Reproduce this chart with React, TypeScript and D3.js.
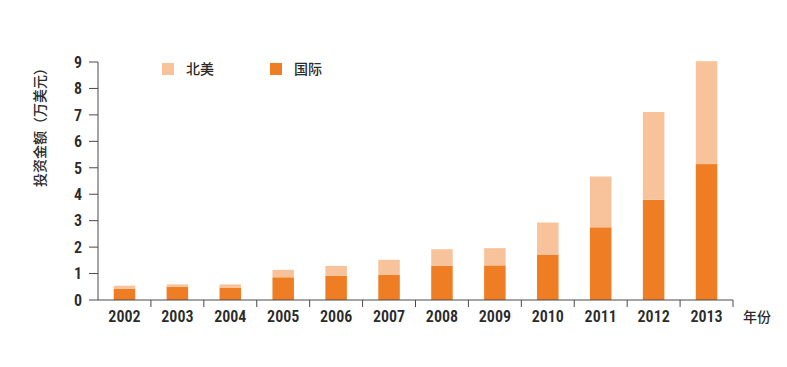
import React from "react";
import * as d3 from "d3";

const years = ["2002", "2003", "2004", "2005", "2006", "2007", "2008", "2009", "2010", "2011", "2012", "2013"];
// 国际 (bottom segment)
const intlValues = [0.42, 0.5, 0.47, 0.86, 0.92, 0.96, 1.29, 1.31, 1.72, 2.75, 3.79, 5.14];
// total height of each stacked bar (国际 + 北美)
const totalValues = [0.54, 0.59, 0.59, 1.14, 1.29, 1.52, 1.92, 1.96, 2.93, 4.67, 7.11, 9.03];
const northAmericaValues = totalValues.map((t, i) => +(t - intlValues[i]).toFixed(2));
const yTicks = [0, 1, 2, 3, 4, 5, 6, 7, 8, 9];
const seriesNames = ["北美", "国际"];

const LIGHT = "#f8c39b";
const DARK = "#ef7d23";
const AXIS = "#4a4a4a";
const numFont = "'Liberation Sans Narrow', 'Roboto Condensed', Roboto, sans-serif";
const cjkFont = "'Noto Sans CJK SC', sans-serif";

const App = () => {
  const width = 787;
  const height = 367;
  const margin = { top: 62, right: 54, bottom: 67, left: 98 };

  const band = d3.scaleBand().domain(years).range([margin.left, width - margin.right]);
  const y = d3.scaleLinear().domain([0, 9]).range([height - margin.bottom, margin.top]);
  const barW = 21.5;

  const rows = years.map((yr, i) => ({ year: yr, intl: intlValues[i], na: northAmericaValues[i] }));
  const stack = d3.stack<any>().keys(["intl", "na"])(rows);
  const colors: Record<string, string> = { intl: DARK, na: LIGHT };

  const y0 = y(0);

  return (
    <svg width={width} height={height} style={{ position: "absolute", left: 0, top: 0, background: "#fff" }}>
      {/* bars */}
      {stack.map((layer) => (
        <g key={layer.key} fill={colors[layer.key]}>
          {layer.map((d: any, i: number) => (
            <rect
              key={i}
              x={band(years[i])! + (band.bandwidth() - barW) / 2}
              width={barW}
              y={y(d[1])}
              height={y(d[0]) - y(d[1])}
            />
          ))}
        </g>
      ))}

      {/* y axis */}
      <line x1={margin.left} x2={margin.left} y1={y(9)} y2={y0} stroke={AXIS} strokeWidth={1} />
      {yTicks.map((t) => (
        <g key={t} transform={`translate(0,${y(t)})`}>
          <line x1={margin.left - 9} x2={margin.left} stroke={AXIS} strokeWidth={1} />
          <text
            x={margin.left - 16}
            dy="0.36em"
            textAnchor="end"
            fontFamily={numFont}
            fontSize={16}
            fontWeight={600}
            fill="#2a2a2a"
          >
            {t}
          </text>
        </g>
      ))}

      {/* x axis */}
      <line x1={margin.left} x2={width - margin.right} y1={y0} y2={y0} stroke={AXIS} strokeWidth={1} />
      {years.map((yr) => (
        <g key={yr}>
          <line
            x1={band(yr)! + band.bandwidth()}
            x2={band(yr)! + band.bandwidth()}
            y1={y0}
            y2={y0 + 7}
            stroke={AXIS}
            strokeWidth={1}
          />
          <text
            x={band(yr)! + band.bandwidth() / 2}
            y={y0 + 22}
            textAnchor="middle"
            fontFamily={numFont}
            fontSize={16}
            fontWeight={600}
            fill="#2a2a2a"
          >
            {yr}
          </text>
        </g>
      ))}
      <text x={743} y={y0 + 22} fontFamily={cjkFont} fontSize={14} fontWeight={500} fill="#2a2a2a">
        年份
      </text>

      {/* y title */}
      <text
        transform={`translate(45,124) rotate(-90)`}
        textAnchor="middle"
        fontFamily={cjkFont}
        fontSize={14}
        fontWeight={500}
        fill="#2a2a2a"
      >
        投资金额（万美元）
      </text>

      {/* legend */}
      {seriesNames.map((name, i) => (
        <g key={name} transform={`translate(${162 + i * 108},63)`}>
          <rect width={12} height={12} fill={i === 0 ? LIGHT : DARK} />
          <text x={24} y={11} fontFamily={cjkFont} fontSize={14} fontWeight={500} fill="#2a2a2a">
            {name}
          </text>
        </g>
      ))}
    </svg>
  );
};

export default App;
